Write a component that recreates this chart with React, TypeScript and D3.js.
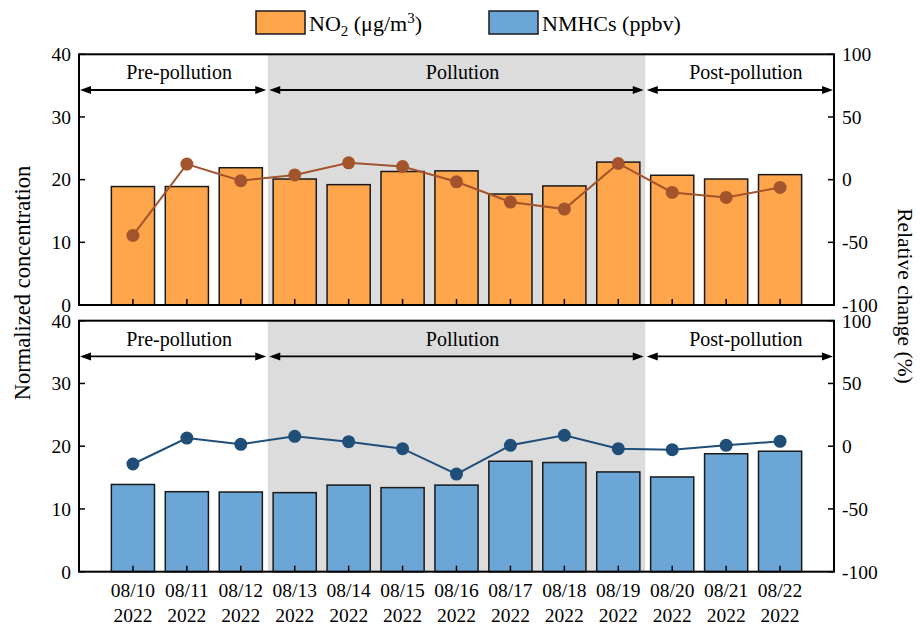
import React, { useEffect } from "react";
import * as d3 from "d3";

const categories = ["08/10", "08/11", "08/12", "08/13", "08/14", "08/15", "08/16", "08/17", "08/18", "08/19", "08/20", "08/21", "08/22"];
const yearLabel = "2022";
const no2Values = [18.9, 18.9, 21.9, 20.1, 19.2, 21.3, 21.4, 17.7, 19.0, 22.8, 20.7, 20.1, 20.8];
const no2Change = [-44.5, 12.4, -0.9, 3.8, 13.4, 10.5, -1.7, -17.9, -23.5, 12.9, -10.2, -14.2, -6.2];
const nmhcValues = [13.9, 12.75, 12.7, 12.6, 13.8, 13.4, 13.8, 17.6, 17.4, 15.9, 15.1, 18.8, 19.2];
const nmhcChange = [-14.2, 6.5, 1.5, 7.9, 3.6, -2.0, -22.2, 0.7, 8.7, -2.0, -2.8, 0.7, 3.9];
const leftTicks = [0, 10, 20, 30, 40];
const rightTicks = [-100, -50, 0, 50, 100];
const periodNames = ["Pre-pollution", "Pollution", "Post-pollution"];
const periodFirst = [0, 3, 10];
const periodLast = [2, 9, 12];

const FONT = "'Liberation Serif', 'Times New Roman', serif";
const W = 920;
const H = 628;
const PL = 79;
const PR = 834;
const panels = [
  { top: 54.3, bottom: 305, values: no2Values, change: no2Change, fill: "#FFA54C", line: "#A4542C" },
  { top: 320.7, bottom: 571.7, values: nmhcValues, change: nmhcChange, fill: "#6CA6D7", line: "#1F4E79" },
];

const x = d3.scaleBand<string>().domain(categories).range([PL, PR]).paddingInner(0.2).paddingOuter(0.6);
const step = x.step();
const bw = x.bandwidth();
const xc = (k: number) => (x(categories[0]) as number) + bw / 2 + k * step;

function Panel({ p, showX }: { p: typeof panels[0]; showX: boolean }) {
  const y = d3.scaleLinear().domain([0, 40]).range([p.bottom, p.top]);
  const yr = d3.scaleLinear().domain([-100, 100]).range([p.bottom, p.top]);
  const line = d3
    .line<number>()
    .x((_, i) => xc(i))
    .y((d) => yr(d));
  const shadeX0 = xc(periodFirst[1] - 0.5);
  const shadeX1 = xc(periodLast[1] + 0.5);
  const arrowY = y(34.3);
  const labelY = y(36);
  const tick = 6;
  return (
    <g>
      <rect x={shadeX0} y={p.top} width={shadeX1 - shadeX0} height={p.bottom - p.top} fill="#DCDCDC" />
      {periodNames.map((name, i) => {
        const a = periodFirst[i] === 0 ? PL + 1 : xc(periodFirst[i] - 0.5) + 1.5;
        const b = periodLast[i] === categories.length - 1 ? PR - 1 : xc(periodLast[i] + 0.5) - 1.5;
        const ah = 11;
        const aw = 4;
        return (
          <g key={name}>
            <line x1={a + ah - 1} x2={b - ah + 1} y1={arrowY} y2={arrowY} stroke="#000" strokeWidth={1.8} />
            <path d={`M${a},${arrowY}L${a + ah},${arrowY - aw}L${a + ah},${arrowY + aw}Z`} fill="#000" />
            <path d={`M${b},${arrowY}L${b - ah},${arrowY - aw}L${b - ah},${arrowY + aw}Z`} fill="#000" />
            <text x={(a + b) / 2 + 6} y={labelY} textAnchor="middle" fontFamily={FONT} fontSize={20}>
              {name}
            </text>
          </g>
        );
      })}
      {p.values.map((v, i) => (
        <rect
          key={i}
          x={x(categories[i])}
          y={y(v)}
          width={bw}
          height={y(0) - y(v)}
          fill={p.fill}
          stroke="#1a1a1a"
          strokeWidth={1.5}
        />
      ))}
      <path d={line(p.change) || ""} fill="none" stroke={p.line} strokeWidth={2} />
      {p.change.map((d, i) => (
        <circle key={i} cx={xc(i)} cy={yr(d)} r={6.5} fill={p.line} />
      ))}
      {categories.map((c, i) => (
        <line key={c} x1={xc(i)} x2={xc(i)} y1={p.bottom} y2={p.bottom - tick} stroke="#000" strokeWidth={1.5} />
      ))}
      {leftTicks.map((t) => (
        <g key={t}>
          <line x1={PL} x2={PL + tick} y1={y(t)} y2={y(t)} stroke="#000" strokeWidth={1.5} />
          <text x={71} y={y(t)} dy="0.35em" textAnchor="end" fontFamily={FONT} fontSize={19.5}>
            {t}
          </text>
        </g>
      ))}
      {rightTicks.map((t) => (
        <g key={t}>
          <line x1={PR} x2={PR - tick} y1={yr(t)} y2={yr(t)} stroke="#000" strokeWidth={1.5} />
          <text x={842} y={yr(t)} dy="0.35em" textAnchor="start" fontFamily={FONT} fontSize={19.5}>
            {t}
          </text>
        </g>
      ))}
      <rect x={PL} y={p.top} width={PR - PL} height={p.bottom - p.top} fill="none" stroke="#000" strokeWidth={2} />
      {showX &&
        categories.map((c, i) => (
          <text key={c} x={xc(i)} textAnchor="middle" fontFamily={FONT} fontSize={19.5}>
            <tspan x={xc(i)} y={597}>{c}</tspan>
            <tspan x={xc(i)} y={622}>{yearLabel}</tspan>
          </text>
        ))}
    </g>
  );
}

export default function App() {
  useEffect(() => {
    document.body.style.margin = "0";
  }, []);
  return (
    <svg width={W} height={H} style={{ display: "block", background: "#fff" }} xmlns="http://www.w3.org/2000/svg">
      <rect width={W} height={H} fill="#fff" />
      {panels.map((p, i) => (
        <Panel key={i} p={p} showX={i === 1} />
      ))}
      <g fontFamily={FONT} fontSize={22}>
        <rect x={256} y={11} width={49} height={23} fill={panels[0].fill} stroke="#1a1a1a" strokeWidth={1.5} />
        <text x={309} y={31}>
          NO<tspan fontSize={15} dy={5}>2</tspan>
          <tspan dy={-5}> (μg/m</tspan>
          <tspan fontSize={15} dy={-8}>3</tspan>
          <tspan dy={8}>)</tspan>
        </text>
        <rect x={489} y={11} width={49} height={23} fill={panels[1].fill} stroke="#1a1a1a" strokeWidth={1.5} />
        <text x={542} y={31}>NMHCs (ppbv)</text>
      </g>
      <text
        transform={`translate(30,283) rotate(-90)`}
        textAnchor="middle"
        fontFamily={FONT}
        fontSize={22.5}
      >
        Normalized concentration
      </text>
      <text
        transform={`translate(898,296) rotate(90)`}
        textAnchor="middle"
        fontFamily={FONT}
        fontSize={21.5}
      >
        Relative change (%)
      </text>
    </svg>
  );
}
